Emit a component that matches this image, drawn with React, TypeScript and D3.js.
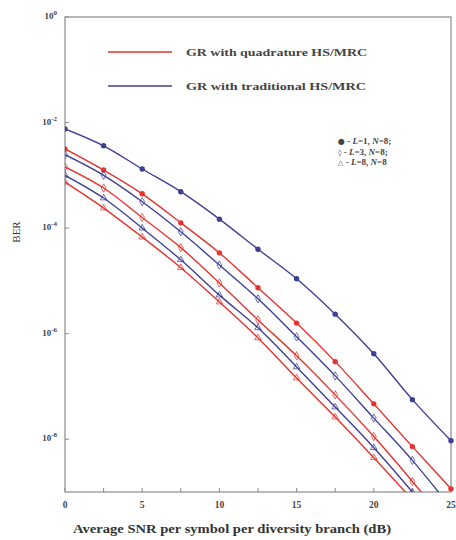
import React from "react";
import * as d3 from "d3";

const snr = [0, 2.5, 5, 7.5, 10, 12.5, 15, 17.5, 20, 22.5, 25];
// log10(BER) values
const blueL1 = [-2.12, -2.44, -2.88, -3.31, -3.83, -4.4, -4.96, -5.63, -6.38, -7.25, -8.03];
const redL1 = [-2.5, -2.9, -3.35, -3.9, -4.47, -5.13, -5.8, -6.53, -7.33, -8.14, -8.94];
const blueL3 = [-2.61, -3.0, -3.5, -4.07, -4.7, -5.34, -6.06, -6.8, -7.6, -8.4, -9.3];
const redL3 = [-2.84, -3.24, -3.8, -4.37, -5.04, -5.74, -6.42, -7.16, -7.95, -8.8, -9.7];
const blueL8 = [-3.0, -3.43, -4.0, -4.6, -5.27, -5.89, -6.63, -7.39, -8.16, -9.0, -9.9];
const redL8 = [-3.13, -3.62, -4.17, -4.75, -5.4, -6.08, -6.84, -7.58, -8.35, -9.15, -10.0];

const xTicks = [0, 5, 10, 15, 20, 25];
const xMinorTicks = [0, 2.5, 5, 7.5, 10, 12.5, 15, 17.5, 20, 22.5, 25];
const yTickExps = [0, -2, -4, -6, -8];

const legendLines = ["GR with quadrature HS/MRC", "GR with traditional HS/MRC"];
const markerLegend = [
  { sym: "\u25CF", L: "1", N: "8;" },
  { sym: "\u25CA", L: "3", N: "8;" },
  { sym: "\u25B3", L: "8", N: "8" },
];

const RED = "#e8322e";
const BLUE = "#3d3f94";

const series = [
  { vals: blueL1, color: BLUE, m: "circle" },
  { vals: redL1, color: RED, m: "circle" },
  { vals: blueL3, color: BLUE, m: "diamond" },
  { vals: redL3, color: RED, m: "diamond" },
  { vals: blueL8, color: BLUE, m: "triangle" },
  { vals: redL8, color: RED, m: "triangle" },
];

export default function App() {
  const W = 456, H = 540;
  const L = 65, R = 451, T = 17, B = 492;
  const x = d3.scaleLinear().domain([0, 25]).range([L, R]);
  const y = d3.scaleLinear().domain([0, -9]).range([T, B]);
  const line = d3
    .line<number>()
    .x((_, i) => x(snr[i]))
    .y((d) => y(d))
    .curve(d3.curveCatmullRom.alpha(0.5));
  const serif = "Liberation Serif, Tinos, Times New Roman, serif";

  const marker = (m: string, cx: number, cy: number, color: string, k: string) => {
    if (m === "circle")
      return <circle key={k} cx={cx} cy={cy} r={2.7} fill={color} />;
    const t = m === "diamond" ? d3.symbolDiamond : d3.symbolTriangle;
    const p = d3.symbol().type(t).size(m === "diamond" ? 20 : 18)();
    return (
      <path key={k} d={p || ""} transform={`translate(${cx},${cy})`} fill="none" stroke={color} strokeWidth={1} opacity={0.75} />
    );
  };

  return (
    <svg width={W} height={H} style={{ position: "absolute", left: 0, top: 0, background: "#fff" }}>
      <defs>
        <clipPath id="plot">
          <rect x={L} y={T} width={R - L + 4} height={B - T} />
        </clipPath>
      </defs>
      {/* frame */}
      <rect x={L} y={T} width={R - L} height={B - T} fill="none" stroke="#8a8a8a" strokeWidth={1.2} />
      {/* x ticks */}
      {xMinorTicks.map((t) => (
        <line key={"xt" + t} x1={x(t)} x2={x(t)} y1={B} y2={B - 4} stroke="#8a8a8a" />
      ))}
      {xTicks.map((t) => (
        <text key={"xl" + t} x={x(t)} y={B + 16} textAnchor="middle" fontFamily={serif} fontWeight="bold" fontSize={9.5} fill="#444">
          {t}
        </text>
      ))}
      {/* y ticks */}
      {yTickExps.map((e) => (
        <g key={"yt" + e}>
          <line x1={L} x2={L + 4} y1={y(e)} y2={y(e)} stroke="#8a8a8a" />
          <text x={L - 8} y={y(e) + 2} textAnchor="end" fontFamily={serif} fontWeight="bold" fontSize={9} fill="#444">
            10
            <tspan dy={-4} fontSize={7}>
              {e === 0 ? "0" : String(e)}
            </tspan>
          </text>
        </g>
      ))}
      {/* axis titles */}
      <text transform={`translate(20,232) rotate(-90)`} textAnchor="middle" fontFamily={serif} fontSize={11} fill="#333">
        BER
      </text>
      <text x={232} y={533} textAnchor="middle" fontFamily={serif} fontWeight="bold" fontSize={11.5} fill="#333" textLength={318} lengthAdjust="spacingAndGlyphs">
        Average SNR per symbol per diversity branch (dB)
      </text>
      {/* curves */}
      <g clipPath="url(#plot)">
        {series.map((s, si) => (
          <g key={"s" + si}>
            <path d={line(s.vals) || ""} fill="none" stroke={s.color} strokeWidth={1.4} />
            {s.vals.map((v, i) => (v >= -9.05 ? marker(s.m, x(snr[i]), y(v), s.color, `m${si}-${i}`) : null))}
          </g>
        ))}
      </g>
      {/* legend */}
      {legendLines.map((t, i) => (
        <g key={"lg" + i}>
          <line x1={108} x2={172} y1={52 + i * 34} y2={52 + i * 34} stroke={i === 0 ? RED : BLUE} strokeWidth={1.4} />
          <text x={186} y={56 + i * 34} fontFamily={serif} fontWeight="bold" fontSize={11} fill="#444" textLength={i === 0 ? 181 : 180} lengthAdjust="spacingAndGlyphs">
            {t}
          </text>
        </g>
      ))}
      {markerLegend.map((m, i) => (
        <text key={"ml" + i} x={338} y={144 + i * 10.5} fontFamily={serif} fontWeight="bold" fontSize={9} fill="#444">
          <tspan fontFamily="DejaVu Sans" fontSize={i === 0 ? 8 : 7}>{m.sym}</tspan>
          {" - "}
          <tspan fontStyle="italic">L</tspan>
          {"=" + m.L + ", "}
          <tspan fontStyle="italic">N</tspan>
          {"=" + m.N}
        </text>
      ))}
    </svg>
  );
}
